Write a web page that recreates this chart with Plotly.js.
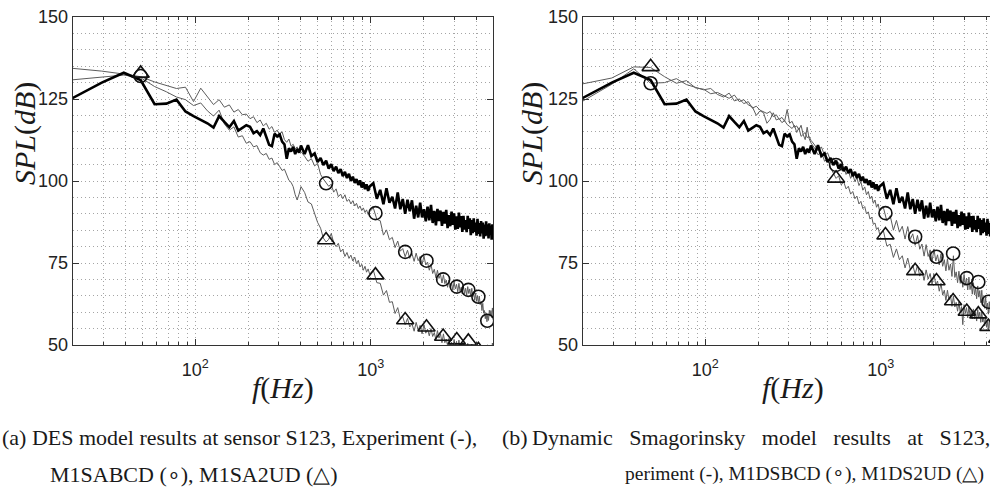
<!DOCTYPE html>
<html><head><meta charset="utf-8">
<script src="https://cdn.plot.ly/plotly-3.0.1.min.js"></script>
<style>html,body{margin:0;padding:0;background:#fff}#chart{width:990px;height:496px}</style>
</head><body><div id="chart"></div>
<script>
// Frequency bins (Hz)
const FREQ = [19.5,29.3,39.1,48.8,58.6,68.4,78.1,87.9,97.7,107.4,117.2,127,136.7,146.5,156.3,166,175.8,185.5,195.3,205.1,214.8,224.6,234.4,244.1,253.9,263.7,273.4,283.2,293,302.7,312.5,322.3,332,341.8,351.6,361.3,371.1,380.9,390.6,400.4,
420,439,459,479,498,518,537,557,576,596,615,635,654,674,693,713,732,752,771,791,811,830,850,869,889,908,928,947,967,986,
1035,1084,1133,1182,1230,1279,1328,1377,1426,1475,1523,1572,1621,1670,1719,1768,1816,1865,1914,1963,2012,2061,2109,2158,2207,2256,2305,2354,2402,2451,2500,2549,2598,2647,2695,2744,2793,2842,2891,2939,2988,3037,3086,3135,3184,3232,3281,3330,3379,3428,3477,3525,3574,3623,3672,3721,3770,3818,3867,3916,3965,4014,4063,4111,4160,4209,4258,4307,4355,4404,4453,4502,4551,4600,4648,4697,4746,4795,4844,4893,4941,4990,5039];

// Experiment (thick black), same in both panels
const EXPERIMENT = [125.0,130.0,133.0,130.8,123.4,123.6,124.8,121.2,119.8,118.7,117.6,116.3,119.8,118.0,116.4,118.3,115.4,116.2,117.0,116.5,114.6,115.2,114.0,116.0,113.2,111.0,110.6,114.4,113.6,114.2,112.0,111.2,106.8,110.0,109.0,110.4,108.2,109.8,108.6,110.8,
108.2,110.9,107.6,108.4,105.8,107.0,104.9,106.2,103.8,105.1,103.0,104.4,102.4,103.6,101.5,102.8,100.9,102.2,100.0,101.3,99.4,100.6,98.8,100.2,98.0,99.6,97.5,99.0,97.0,98.3,
99.3,94.6,97.3,92.9,97.8,93.4,95.2,91.6,96.5,91.4,94.5,90.0,94.3,90.8,94.1,88.5,92.5,88.9,93.4,88.9,91.4,87.7,92.2,88.0,92.7,87.2,90.9,86.5,91.5,87.8,91.0,86.3,90.6,87.0,91.2,85.6,89.6,86.2,90.7,86.6,90.1,85.2,89.2,85.4,90.4,85.9,89.3,84.5,89.4,85.2,88.1,84.4,89.4,85.4,88.6,83.5,88.1,84.1,88.6,84.5,87.3,83.3,88.5,83.9,87.2,83.1,87.8,84.0,87.3,82.4,86.7,83.2,87.7,83.4,86.8,82.5,87.1,83.7,86.4,82.1,86.8,82.9,86.0];

// (a) DES: M1SABCD (circles) and M1SA2UD (triangles)
const M1SABCD = [134.4,133.5,132.6,131.8,130.2,129.0,128.2,128.6,124.2,128.3,125.6,123.3,124.8,122.5,123.2,121.0,121.8,120.2,120.4,119.0,119.6,117.8,118.6,116.8,117.6,115.8,116.6,114.8,115.5,114.2,115.0,112.6,111.8,112.8,110.6,111.2,109.8,110.4,108.6,109.0,
107.5,106.0,106.8,104.6,105.4,102.0,100.6,99.3,98.4,99.0,96.6,97.6,95.2,96.0,94.6,95.8,93.8,94.4,93.0,94.0,92.4,93.2,91.6,92.4,91.0,91.8,90.4,91.2,89.8,90.6,
91.8,88.3,87.9,83.5,85.1,82.1,82.8,79.7,81.7,78.6,79.4,76.9,78.9,76.4,77.9,75.5,78.0,75.7,77.0,74.6,77.1,74.4,75.3,72.8,74.6,71.8,73.1,70.5,72.8,70.3,71.5,68.9,71.4,68.7,69.8,67.6,69.8,67.4,69.0,66.7,69.3,67.1,68.5,66.2,68.8,66.3,67.6,65.6,67.9,65.6,67.3,65.1,67.8,65.7,67.1,64.7,67.3,64.7,65.8,63.6,65.8,63.4,65.0,62.7,64.9,62.3,63.3,60.5,62.7,59.7,60.5,58.0,59.8,57.1,59.2,57.5,60.6,58.8,60.5,58.4,61.3,58.9,60.3];
const M1SA2UD = [130.8,131.6,132.3,131.5,128.8,127.2,125.6,124.8,123.0,123.8,121.4,119.8,121.6,117.4,115.5,116.5,113.4,113.8,111.5,112.0,110.4,110.8,108.6,107.9,108.4,106.6,107.0,105.0,105.6,104.4,103.2,103.6,101.8,100.2,99.6,98.3,95.8,94.2,96.0,98.3,
96.5,93.6,93.0,89.8,87.4,85.6,82.6,81.4,82.2,84.0,81.2,80.0,81.0,78.4,79.2,77.0,78.2,76.4,77.4,75.6,76.8,74.8,75.8,73.8,74.6,72.8,74.0,72.2,73.2,71.6,
72.8,69.0,68.8,65.2,66.6,63.0,63.2,59.6,61.4,58.0,58.6,56.2,58.1,55.5,56.5,54.2,56.9,54.6,56.0,53.4,56.2,53.6,54.8,52.8,55.0,52.6,53.8,51.6,54.4,52.1,53.4,50.7,53.4,50.7,51.8,49.8,52.0,49.6,50.9,48.8,51.7,49.6,51.1,48.6,51.5,49.0,50.3,48.4,50.7,48.4,49.7,47.6,50.5,48.4,49.9,47.4,50.3,47.8,49.1,47.2,49.5,47.2,48.5,46.4,49.3,47.2,48.7,46.2,49.1,46.6,47.9,46.0,48.3,46.0,47.3,45.2,48.1,46.0,47.5,45.0,50.6,45.4,51.2];

// (b) Dynamic Smagorinsky: M1DSBCD (circles) and M1DS2UD (triangles)
const M1DSBCD = [124.0,129.5,134.2,129.8,130.0,131.2,129.4,128.6,127.8,128.2,126.4,125.6,126.8,124.4,125.0,123.6,124.2,122.2,122.8,121.6,121.0,120.6,121.2,119.6,120.2,118.8,119.4,118.2,121.8,117.6,118.2,116.4,116.8,115.6,117.0,114.2,114.8,113.2,113.6,112.4,
111.0,109.2,110.4,107.8,108.6,106.2,107.0,104.9,105.6,103.2,104.4,102.0,103.2,100.8,102.0,99.8,101.0,98.6,99.8,97.2,98.2,95.8,96.8,94.6,95.4,93.2,94.2,92.0,93.0,90.8,
92.0,87.8,89.4,85.0,88.0,84.4,86.2,82.3,86.1,82.2,83.9,80.4,83.4,79.2,80.8,77.1,80.6,77.0,79.0,75.4,79.3,75.6,77.5,74.4,77.8,74.0,76.0,72.6,76.3,72.8,74.7,70.9,77.2,70.6,72.3,69.0,72.5,68.8,70.9,67.6,71.5,68.2,70.4,66.8,70.7,66.9,68.7,65.5,69.0,65.3,67.4,64.1,68.0,64.6,66.6,62.9,66.7,62.8,64.5,61.2,64.6,60.8,62.8,59.4,63.2,59.8,61.8,58.1,61.9,58.0,59.7,56.4,59.8,56.0,58.1,54.8,58.8,55.6,57.8,54.3,58.4,54.8,56.9];
const M1DS2UD = [129.5,131.4,134.8,134.6,131.8,129.8,130.6,128.4,128.0,126.6,127.0,126.0,125.2,126.2,124.2,124.8,123.2,122.6,120.0,121.4,120.8,117.6,118.8,120.8,118.6,119.0,117.8,118.4,117.2,116.6,116.0,117.0,114.8,116.2,113.6,114.2,112.6,116.4,113.0,111.6,
110.0,108.0,108.8,106.0,106.8,104.0,102.4,100.8,101.6,98.8,99.8,97.6,98.4,96.0,96.8,94.6,95.4,93.0,93.8,91.6,92.2,90.0,90.6,88.4,89.0,86.8,87.2,85.2,85.8,83.8,
84.9,80.2,80.7,76.7,79.3,76.0,77.2,73.5,76.5,73.0,74.4,71.6,74.3,71.0,72.7,69.7,72.9,70.1,71.8,68.5,71.7,68.3,69.5,66.4,68.8,65.2,66.7,63.6,66.7,63.7,65.2,61.8,64.9,61.6,63.0,60.3,63.1,59.9,61.7,56.2,62.3,59.6,61.4,58.3,61.8,58.8,60.5,58.0,61.0,58.0,60.0,57.3,60.8,58.2,60.0,56.9,60.2,57.0,58.5,55.8,58.6,55.4,57.2,54.3,57.7,55.0,56.8,53.7,57.1,54.0,55.6,53.0,55.9,52.8,54.7,51.9,55.3,52.6,54.4,51.3,54.7,51.6,53.2];

// Marker positions (every 52nd bin) and their read values
const MARK_FREQ = [48.8,556.6,1064.5,1572.3,2080.1,2587.9,3095.7,3603.5,4111.3,4619.1];
const M1SABCD_MARK = [132.0,99.3,90.2,78.4,75.7,70.0,67.8,66.8,64.7,57.4];
const M1SA2UD_MARK = [132.8,82.0,71.3,57.6,55.4,52.6,51.5,51.1,48.5,47.5];
const M1DSBCD_MARK = [129.8,104.9,90.2,83.0,76.9,77.9,70.4,69.2,63.2,58.0];
const M1DS2UD_MARK = [134.8,100.8,83.5,72.6,69.5,63.4,60.2,59.4,55.6,52.0];

// Axis ticks
const X_TICKS = [100,1000];
const X_TICK_TEXT = ['10<sup>2</sup>','10<sup>3</sup>'];
const X_MINOR = [20,30,40,50,60,70,80,90,200,300,400,500,600,700,800,900,2000,3000,4000,5000];
const Y_TICKS = [50,75,100,125,150];

const THIN = {color:'#5c5c5c', width:1};
const THICK = {color:'#000', width:2.6};
const circ = {symbol:'circle-open', size:13, color:'#111', line:{width:1.6}};
const tri = {symbol:'triangle-up-open', size:15, color:'#111', line:{width:1.6}};

function panel(xa, ya, bcd, ud, bcdM, udM){
  return [
    {x:FREQ, y:bcd, xaxis:xa, yaxis:ya, mode:'lines', line:THIN},
    {x:FREQ, y:ud, xaxis:xa, yaxis:ya, mode:'lines', line:THIN},
    {x:FREQ, y:EXPERIMENT, xaxis:xa, yaxis:ya, mode:'lines', line:THICK},
    {x:MARK_FREQ, y:bcdM, xaxis:xa, yaxis:ya, mode:'markers', marker:circ},
    {x:MARK_FREQ, y:udM, xaxis:xa, yaxis:ya, mode:'markers', marker:tri}
  ];
}
const data = panel('x','y',M1SABCD,M1SA2UD,M1SABCD_MARK,M1SA2UD_MARK)
  .concat(panel('x2','y2',M1DSBCD,M1DS2UD,M1DSBCD_MARK,M1DS2UD_MARK));

const GRID = '#a5a5a5', DASH = '1px,3px', AX = '#333';
const tickfont = {family:'Liberation Sans, Arial, sans-serif', size:18, color:'#222'};
function xax(domain, hi, mirror, anchor){
  return {domain:domain, type:'log', range:[Math.log10(20), Math.log10(hi)], anchor:anchor,
    showline:true, linecolor:AX, linewidth:1, mirror:mirror, zeroline:false,
    ticks:'inside', ticklen:6, tickcolor:AX, tickmode:'array', tickvals:X_TICKS, ticktext:X_TICK_TEXT,
    tickfont:tickfont, ticklabelstandoff:8,
    showgrid:true, gridcolor:GRID, griddash:DASH, gridwidth:1,
    minor:{tickmode:'array', tickvals:X_MINOR, ticks:'inside', ticklen:3, tickcolor:AX, showgrid:true, gridcolor:GRID, griddash:DASH, gridwidth:1}};
}
function yax(mirror, anchor){
  return {range:[50,150], anchor:anchor, domain:[0,1],
    showline:true, linecolor:AX, linewidth:1, mirror:mirror, zeroline:false,
    ticks:'inside', ticklen:6, tickcolor:AX, tickmode:'array', tickvals:Y_TICKS,
    tickfont:tickfont,
    showgrid:true, gridcolor:GRID, griddash:DASH, gridwidth:1,
    minor:{dtick:5, ticks:'', showgrid:true, gridcolor:GRID, griddash:DASH, gridwidth:1}};
}
const W = 990, PT = 17, PB = 345, PH = PB - PT;
const px = v => v / W;
const py = v => (PB - v) / PH;
const titleFont = {family:'Liberation Serif, Times New Roman, serif', size:30, color:'#1a1a1a'};
const capFont = {family:'Liberation Serif, Times New Roman, serif', size:22, color:'#1a1a1a'};
const capFont2 = {family:'Liberation Serif, Times New Roman, serif', size:19.5, color:'#1a1a1a'};
const JS = '\u2002\u2005'; // stretched (justified) word space
function ann(text, x, y, font, opts){
  return Object.assign({text:text, x:px(x), y:py(y), xref:'paper', yref:'paper', showarrow:false, font:font, xanchor:'center', yanchor:'middle'}, opts||{});
}
const layout = {
  width:990, height:496, margin:{l:0, r:0, t:PT, b:496-PB, pad:0},
  paper_bgcolor:'#fff', plot_bgcolor:'#fff', showlegend:false,
  xaxis: xax([72.7/W, 493.3/W], 5000, 'ticks', 'y'),
  yaxis: yax('ticks', 'x'),
  xaxis2: xax([582.7/W, 1], 4200, 'ticks', 'y2'),
  yaxis2: yax(false, 'x2'),
  annotations:[
    ann('<i>SPL</i>(<i>dB</i>)', 25, 134, titleFont, {textangle:-90}),
    ann('<i>SPL</i>(<i>dB</i>)', 532, 134, titleFont, {textangle:-90}),
    ann('<i>f</i>(<i>Hz</i>)', 283, 388, titleFont),
    ann('<i>f</i>(<i>Hz</i>)', 793, 388, titleFont),
    ann('(a) DES model results at sensor S123, Experiment (-),', 0, 437, capFont, {xanchor:'left'}),
    ann('M1SABCD (\u2218), M1SA2UD (\u25B3)', 48, 474, capFont, {xanchor:'left'}),
    ann(['(b)\u2009Dynamic','Smagorinsky','model','results','at','S123,'].join(JS), 500, 437, capFont, {xanchor:'left'}),
    ann('periment (-), M1DSBCD (\u2218), M1DS2UD (\u25B3)', 986, 474, capFont2, {xanchor:'right'})
  ]
};
Plotly.newPlot('chart', data, layout, {staticPlot:true, displayModeBar:false});
</script></body></html>
